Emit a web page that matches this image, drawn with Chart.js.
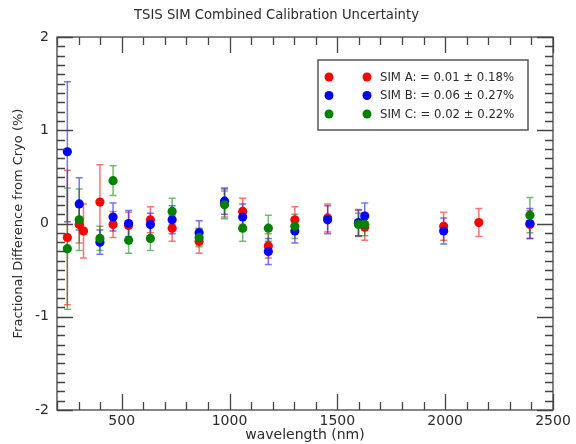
<!DOCTYPE html>
<html>
<head>
<meta charset="utf-8">
<script src="https://cdn.jsdelivr.net/npm/chart.js@4/dist/chart.umd.min.js"></script>
<style>
html,body{margin:0;padding:0;background:#fff;}
#wrap{width:576px;height:444px;position:relative;}
</style>
</head>
<body>
<div id="wrap"><canvas id="c" width="576" height="444"></canvas></div>
<script>
const chartTitle = "TSIS SIM Combined Calibration Uncertainty";
const xTitle = "wavelength (nm)";
const yTitle = "Fractional Difference from Cryo (%)";
const legendLabels = ["SIM A: = 0.01 \u00b1 0.18%", "SIM B: = 0.06 \u00b1 0.27%", "SIM C: = 0.02 \u00b1 0.22%"];
const seriesColors = ["rgb(255,0,0)", "rgb(0,0,255)", "rgb(0,128,0)"];
const errColors = ["rgba(255,0,0,0.55)", "rgba(0,0,255,0.55)", "rgba(0,128,0,0.55)"];

const wlA  = [248, 303, 323, 399, 460, 532, 633, 734, 859, 977, 1061, 1180, 1303, 1455, 1598, 1627, 1993, 2156, 2393];
const valA = [-0.15, -0.01, -0.08, 0.23, -0.01, -0.02, 0.04, -0.05, -0.19, 0.22, 0.13, -0.24, 0.04, 0.06, 0.00, -0.04, -0.03, 0.01, -0.01];
const errA = [0.72, 0.20, 0.29, 0.40, 0.14, 0.14, 0.14, 0.14, 0.13, 0.15, 0.14, 0.13, 0.14, 0.15, 0.14, 0.14, 0.15, 0.15, 0.15];

const wlB  = [248, 303, 399, 460, 532, 633, 734, 859, 977, 1061, 1180, 1303, 1455, 1598, 1627, 1993, 2393];
const valB = [0.77, 0.21, -0.20, 0.07, 0.00, -0.01, 0.04, -0.10, 0.24, 0.07, -0.30, -0.08, 0.04, 0.01, 0.08, -0.08, 0.00];
const errB = [0.75, 0.28, 0.13, 0.15, 0.14, 0.12, 0.15, 0.13, 0.14, 0.14, 0.14, 0.13, 0.15, 0.14, 0.14, 0.14, 0.16];

const wlC  = [248, 303, 399, 460, 532, 633, 734, 859, 977, 1061, 1180, 1303, 1598, 1627, 2393];
const valC = [-0.27, 0.04, -0.16, 0.46, -0.18, -0.16, 0.13, -0.15, 0.20, -0.05, -0.05, -0.03, -0.01, -0.01, 0.09];
const errC = [0.65, 0.33, 0.13, 0.16, 0.14, 0.13, 0.14, 0.10, 0.15, 0.14, 0.14, 0.13, 0.12, 0.12, 0.19];

const xMin = 200, xMax = 2500, xStep = 100, xMajor = 500;
const yMin = -2, yMax = 2, yStep = 0.1, yMajor = 1;

function pts(xs, ys) { return xs.map((x, i) => ({x: x, y: ys[i]})); }
const errs = [errA, errB, errC];

const FONT = "'DejaVu Sans', sans-serif";
const TXT = "#2a2a2a";
const AX = "#444";

const isMajor = (v, m) => Math.abs(v / m - Math.round(v / m)) < 1e-6;

const errorBarPlugin = {
  id: 'errorBars',
  beforeDatasetsDraw(chart) {
    const ctx = chart.ctx, xs = chart.scales.x, ys = chart.scales.y;
    [0, 1, 2].forEach(di => {
      const ds = chart.data.datasets[di];
      const e = errs[di];
      ctx.save();
      ctx.strokeStyle = errColors[di];
      ctx.lineWidth = 1.5;
      ds.data.forEach((p, i) => {
        const px = xs.getPixelForValue(p.x);
        const y1 = ys.getPixelForValue(p.y + e[i]);
        const y2 = ys.getPixelForValue(p.y - e[i]);
        ctx.beginPath();
        ctx.moveTo(px, y1); ctx.lineTo(px, y2);
        ctx.moveTo(px - 3.5, y1); ctx.lineTo(px + 3.5, y1);
        ctx.moveTo(px - 3.5, y2); ctx.lineTo(px + 3.5, y2);
        ctx.stroke();
      });
      ctx.restore();
    });
  }
};

const framePlugin = {
  id: 'frame',
  afterDraw(chart) {
    const ctx = chart.ctx, a = chart.chartArea, xs = chart.scales.x, ys = chart.scales.y;
    ctx.save();
    ctx.strokeStyle = AX;
    ctx.lineWidth = 1.3;
    ctx.strokeRect(a.left, a.top, a.right - a.left, a.bottom - a.top);
    ctx.beginPath();
    for (let v = xMin; v <= xMax + 1e-9; v += xStep) {
      const px = Math.round(xs.getPixelForValue(v)) + 0.5;
      const len = isMajor(v, xMajor) ? 16 : 8;
      ctx.moveTo(px, a.bottom); ctx.lineTo(px, a.bottom - len);
      ctx.moveTo(px, a.top); ctx.lineTo(px, a.top + len);
    }
    for (let k = 0; k <= Math.round((yMax - yMin) / yStep); k++) {
      const v = yMin + k * yStep;
      const py = Math.round(ys.getPixelForValue(v)) + 0.5;
      const len = isMajor(v, yMajor) ? 16 : 8;
      ctx.moveTo(a.left, py); ctx.lineTo(a.left + len, py);
      ctx.moveTo(a.right, py); ctx.lineTo(a.right - len, py);
    }
    ctx.stroke();

    // legend box
    const bx = 318, by = 60, bw = 210, bh = 70;
    ctx.fillStyle = "#fff";
    ctx.fillRect(bx, by, bw, bh);
    ctx.strokeStyle = "#555";
    ctx.lineWidth = 1.5;
    ctx.strokeRect(bx, by, bw, bh);
    ctx.font = "11.7px " + FONT;
    ctx.textBaseline = "middle";
    ctx.textAlign = "left";
    legendLabels.forEach((lab, i) => {
      const ry = by + 17 + i * 18.5;
      ctx.fillStyle = seriesColors[i];
      [329, 367].forEach(cx => {
        ctx.beginPath(); ctx.arc(cx, ry, 4.5, 0, Math.PI * 2); ctx.fill();
      });
      ctx.fillStyle = TXT;
      ctx.fillText(lab, 380, ry + 0.5);
    });
    ctx.restore();
  }
};

new Chart(document.getElementById('c'), {
  type: 'scatter',
  data: {
    datasets: [
      {label: legendLabels[0], data: pts(wlA, valA), backgroundColor: seriesColors[0], order: 3},
      {label: legendLabels[1], data: pts(wlB, valB), backgroundColor: seriesColors[1], order: 2},
      {label: legendLabels[2], data: pts(wlC, valC), backgroundColor: seriesColors[2], order: 1}
    ]
  },
  options: {
    responsive: false,
    animation: false,
    devicePixelRatio: 1,
    layout: {padding: {top: 0, right: 23, bottom: 0, left: 0}},
    elements: {point: {radius: 4.6, borderWidth: 0, hoverRadius: 4.6}},
    plugins: {
      legend: {display: false},
      tooltip: {enabled: false},
      title: {
        display: true, text: chartTitle, color: TXT,
        font: {family: FONT, size: 13.2, weight: 'normal', lineHeight: 1.2},
        padding: {top: 8, bottom: 13.2}
      }
    },
    scales: {
      x: {
        type: 'linear', min: xMin, max: xMax,
        afterFit(s) { s.height = 34; },
        grid: {display: false, drawTicks: false},
        border: {display: false},
        ticks: {
          stepSize: xStep, autoSkip: false, maxRotation: 0, padding: 3,
          color: TXT, font: {family: FONT, size: 14},
          callback: v => isMajor(v, xMajor) && v !== xMin ? String(v) : ''
        },
        title: {display: true, text: xTitle, color: TXT, font: {family: FONT, size: 14, lineHeight: 1.2}, padding: {top: 0, bottom: 0}}
      },
      y: {
        type: 'linear', min: yMin, max: yMax,
        afterFit(s) { s.width = 57; },
        grid: {display: false, drawTicks: false},
        border: {display: false},
        ticks: {
          stepSize: yStep, autoSkip: false, padding: 8,
          color: TXT, font: {family: FONT, size: 14},
          callback: v => isMajor(v, yMajor) ? String(Math.round(v)) : ''
        },
        title: {display: true, text: yTitle, color: TXT, font: {family: FONT, size: 13, lineHeight: 1.2}, padding: {top: 11, bottom: 0}}
      }
    }
  },
  plugins: [errorBarPlugin, framePlugin]
});
</script>
</body>
</html>
